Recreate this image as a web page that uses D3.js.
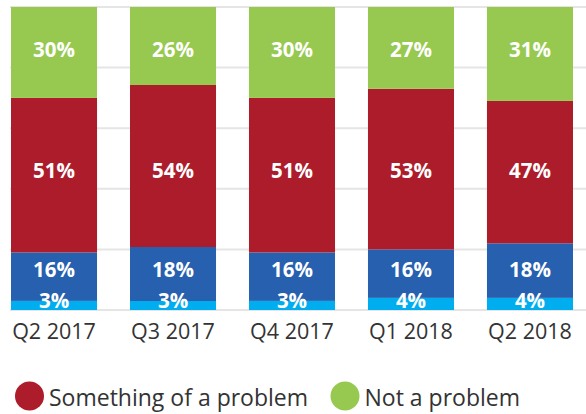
<!DOCTYPE html>
<html>
<head>
<meta charset="utf-8">
<script src="https://cdn.jsdelivr.net/npm/d3@7"></script>
<style>
  body { margin: 0; background: #fff; }
  svg { display: block; font-family: "Open Sans", sans-serif; }
</style>
</head>
<body>
<svg id="chart" width="586" height="414"></svg>
<script>
// Chart data
const quarters = ["Q2 2017", "Q3 2017", "Q4 2017", "Q1 2018", "Q2 2018"];
const dontKnow = [3, 3, 3, 4, 4];
const bigProblem = [16, 18, 16, 16, 18];
const somethingOfAProblem = [51, 54, 51, 53, 47];
const notAProblem = [30, 26, 30, 27, 31];
const seriesKeys = ["Don't know", "A big problem", "Something of a problem", "Not a problem"];
const seriesColors = ["#00aeef", "#2660ae", "#ad1c2a", "#97c950"];
const legendKeys = ["Something of a problem", "Not a problem"];
const gridTicks = [0, 0.2, 0.4, 0.6, 0.8, 1];

const width = 586;
const svg = d3.select("#chart");

// build rows for d3.stack
const rows = quarters.map((q, i) => ({
  quarter: q,
  [seriesKeys[0]]: dontKnow[i],
  [seriesKeys[1]]: bigProblem[i],
  [seriesKeys[2]]: somethingOfAProblem[i],
  [seriesKeys[3]]: notAProblem[i]
}));

const stacked = d3.stack().keys(seriesKeys).offset(d3.stackOffsetExpand)(rows);

const x = d3.scaleBand().domain(quarters).range([11, 573]).paddingInner(0.277).paddingOuter(0);
const y = d3.scaleLinear().domain([0, 1]).range([310, 7]);
const color = d3.scaleOrdinal().domain(seriesKeys).range(seriesColors);

// gridlines
svg.append("g")
  .selectAll("line")
  .data(gridTicks)
  .join("line")
  .attr("x1", 10)
  .attr("x2", width)
  .attr("y1", d => y(d))
  .attr("y2", d => y(d))
  .attr("stroke", "#e5e5e5")
  .attr("stroke-width", 2);

// bars
svg.append("g")
  .selectAll("g")
  .data(stacked)
  .join("g")
  .attr("fill", d => color(d.key))
  .selectAll("rect")
  .data(d => d)
  .join("rect")
  .attr("x", d => x(d.data.quarter))
  .attr("width", x.bandwidth())
  .attr("y", d => y(d[1]))
  .attr("height", d => y(d[0]) - y(d[1]));

// value labels on top of all bars, one row per series (average middle of the segments)
const labelLayer = svg.append("g");
stacked.forEach(layer => {
  const midY = d3.mean(layer, v => (y(v[0]) + y(v[1])) / 2);
  const shift = layer.index < 2 ? 4 : 1;
  labelLayer.append("g")
    .selectAll("text")
    .data(layer)
    .join("text")
    .attr("x", v => x(v.data.quarter) + x.bandwidth() / 2)
    .attr("y", midY - shift)
    .attr("dy", "0.35em")
    .attr("text-anchor", "middle")
    .attr("fill", "#fff")
    .attr("font-weight", "bold")
    .attr("font-size", 20.5)
    .text(v => v.data[layer.key] + "%");
});

// x axis labels
const xAxis = svg.append("g")
  .attr("transform", `translate(0,${y(0)})`)
  .call(d3.axisBottom(x).tickSize(0).tickPadding(14));
xAxis.select(".domain").remove();
xAxis.selectAll("text")
  .attr("font-family", "Open Sans, sans-serif")
  .attr("font-size", 21.5)
  .attr("fill", "#333");

// legend
const legend = svg.append("g").attr("transform", "translate(0,396)");
const legendX = [29.5, 345];
legendKeys.forEach((k, i) => {
  const g = legend.append("g").attr("transform", `translate(${legendX[i]},0)`);
  g.append("circle").attr("r", 14.5).attr("fill", color(k));
  g.append("text")
    .attr("x", 19.5)
    .attr("y", 2)
    .attr("dy", "0.35em")
    .attr("font-size", 23)
    .attr("fill", "#333")
    .text(k);
});
</script>
</body>
</html>
